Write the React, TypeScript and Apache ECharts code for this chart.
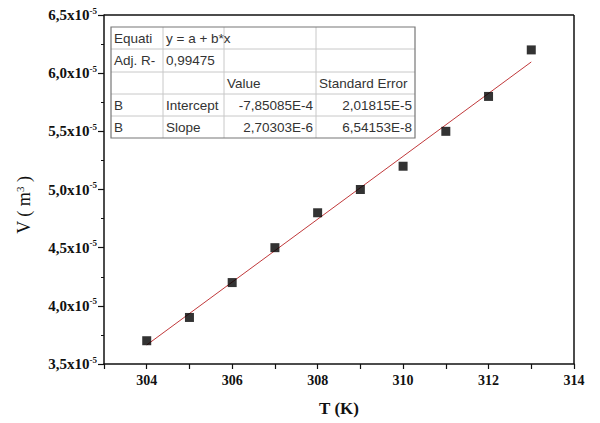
import React, { useEffect, useRef } from "react";
import * as echarts from "echarts";

// Data (V in units of 1e-5 m^3)
const temperatures = [304, 305, 306, 307, 308, 309, 310, 311, 312, 313];
const volumes = [3.7, 3.9, 4.2, 4.5, 4.8, 5.0, 5.2, 5.5, 5.8, 6.2];
// Fit coefficients from the table
const fitA = -7.85085e-4;
const fitB = 2.70303e-6;
const fitRange = [304, 313];
const yTicks = ["3,5", "4,0", "4,5", "5,0", "5,5", "6,0", "6,5"];

const tableRows = [
  ["Equati", "y = a + b*x", "", ""],
  ["Adj. R-", "0,99475", "", ""],
  ["", "", "Value", "Standard Error"],
  ["B", "Intercept", "-7,85085E-4", "2,01815E-5"],
  ["B", "Slope", "2,70303E-6", "6,54153E-8"],
];

const serif = "'Liberation Serif', 'Times New Roman', serif";

export default function App() {
  const ref = useRef<HTMLDivElement>(null);
  useEffect(() => {
    const chart = echarts.init(ref.current!, null, { renderer: "svg" });
    const fitData = fitRange.map((t) => [t, (fitA + fitB * t) * 1e5]);

    // table graphic
    const tx = 111, ty = 27;
    const colX = [0, 52, 113, 205, 304];
    const rowY = [0, 22, 45, 67, 89, 111];
    const g: any[] = [];
    const tableW = colX[4], tableH = rowY[5];
    for (let i = 1; i < 5; i++) {
      g.push({ type: "line", shape: { x1: tx, y1: ty + rowY[i], x2: tx + tableW, y2: ty + rowY[i] }, style: { stroke: "#c8c8c8", lineWidth: 1 } });
    }
    for (let j = 1; j < 4; j++) {
      g.push({ type: "line", shape: { x1: tx + colX[j], y1: ty, x2: tx + colX[j], y2: ty + tableH }, style: { stroke: "#c8c8c8", lineWidth: 1 } });
    }
    g.push({ type: "rect", shape: { x: tx, y: ty, width: tableW, height: tableH }, style: { fill: "none", stroke: "#777", lineWidth: 1.2 } });
    tableRows.forEach((row, r) => {
      row.forEach((cell, c) => {
        if (!cell) return;
        const rightAlign = r >= 3 && c >= 2;
        g.push({
          type: "text",
          x: rightAlign ? tx + colX[c + 1] - 3 : tx + colX[c] + 3,
          y: ty + (rowY[r] + rowY[r + 1]) / 2,
          style: {
            text: cell,
            fill: "#333",
            font: "13.5px 'Liberation Sans', Arial, sans-serif",
            textAlign: rightAlign ? "right" : "left",
            textVerticalAlign: "middle",
          },
        });
      });
    });

    chart.setOption({
      animation: false,
      backgroundColor: "#fff",
      grid: { left: 104, right: 26, top: 15, bottom: 59 },
      xAxis: {
        type: "value",
        min: 303,
        max: 314,
        interval: 1,
        name: "T (K)",
        nameLocation: "middle",
        nameGap: 36,
        nameTextStyle: { fontFamily: serif, fontWeight: "bold", fontSize: 17, color: "#111" },
        axisLine: { lineStyle: { color: "#111", width: 1.5 } },
        axisTick: { show: true, inside: false, length: 5, lineStyle: { color: "#111", width: 1.2 } },
        axisLabel: {
          formatter: (v: number) => (v % 2 === 0 ? String(v) : ""),
          fontFamily: serif,
          fontWeight: "bold",
          fontSize: 14,
          color: "#111",
          margin: 9,
        },
        splitLine: { show: false },
      },
      yAxis: {
        type: "value",
        min: 3.5,
        max: 6.5,
        interval: 0.5,
        axisLine: { lineStyle: { color: "#111", width: 1.5 } },
        axisTick: { show: true, inside: false, length: 6, lineStyle: { color: "#111", width: 1.2 } },
        minorTick: { show: true, splitNumber: 2, length: 3, lineStyle: { color: "#111", width: 1 } },
        axisLabel: {
          formatter: (v: number) => {
            const idx = Math.round((v - 3.5) / 0.5);
            return "{b|" + yTicks[idx] + "x10}{s|-5}";
          },
          margin: 7,
          rich: {
            b: { fontFamily: serif, fontWeight: "bold", fontSize: 15, color: "#111" },
            s: { fontFamily: serif, fontWeight: "bold", fontSize: 9, color: "#111", padding: [0, 0, 9, 0] },
          },
        },
        splitLine: { show: false },
      },
      graphic: [
        { type: "line", shape: { x1: 104, y1: 15, x2: 574, y2: 15 }, style: { stroke: "#111", lineWidth: 1.5 } },
        { type: "line", shape: { x1: 574, y1: 15, x2: 574, y2: 364 }, style: { stroke: "#111", lineWidth: 1.5 } },
        {
          type: "text",
          x: 24,
          y: 205,
          rotation: Math.PI / 2,
          style: {
            text: "V ( m{s|3} )",
            fill: "#111",
            font: "18px " + serif,
            textAlign: "center",
            textVerticalAlign: "middle",
            rich: { s: { fontFamily: serif, fontSize: 11, fill: "#111", padding: [0, 0, 9, 0] } },
          },
        },
        ...g,
      ],
      series: [
        {
          type: "line",
          data: fitData,
          symbol: "none",
          lineStyle: { color: "#c0393b", width: 1 },
          z: 2,
        },
        {
          type: "scatter",
          data: temperatures.map((t, i) => [t, volumes[i]]),
          symbol: "rect",
          symbolSize: 9,
          itemStyle: { color: "#000" },
          z: 3,
        },
      ],
    });
    return () => chart.dispose();
  }, []);
  return <div ref={ref} style={{ width: 600, height: 423, position: "absolute", left: 0, top: 0 }} />;
}
